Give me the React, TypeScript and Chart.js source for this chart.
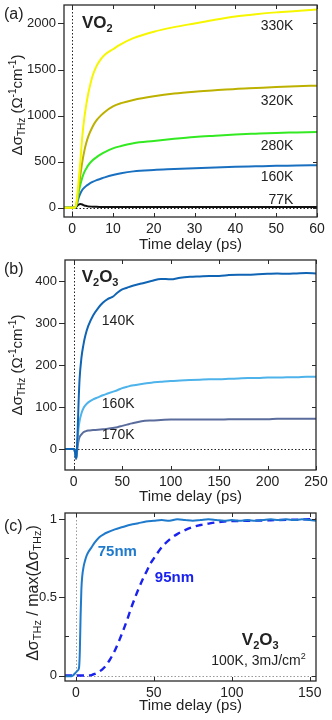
import React, { useEffect, useRef } from "react";
import { Chart, registerables } from "chart.js";
Chart.register(...registerables);

const FONT = '"Liberation Sans", Arial, Helvetica, sans-serif';
const INK = "#222";

// ---------- Panel (a): VO2 ----------
const aTime = [-2, 0, 0.7, 1, 1.3, 1.6, 2, 2.5, 3, 3.5, 4, 5, 6, 7, 8, 10, 12, 15, 20, 25, 30, 35, 40, 45, 50, 55, 60];
const a330K = [0, 0, 5, 40, 150, 300, 500, 780, 980, 1130, 1250, 1430, 1540, 1610, 1660, 1720, 1775, 1840, 1910, 1960, 2000, 2040, 2075, 2100, 2120, 2135, 2150];
const a320K = [0, 0, 3, 30, 110, 220, 350, 500, 620, 710, 780, 880, 950, 1000, 1040, 1100, 1135, 1170, 1210, 1240, 1260, 1275, 1290, 1300, 1310, 1318, 1325];
const a280K = [0, 0, 2, 25, 90, 170, 250, 330, 390, 430, 465, 515, 550, 580, 605, 645, 670, 700, 725, 748, 768, 782, 795, 804, 812, 817, 822];
const a160K = [0, 0, 0, 15, 60, 110, 155, 195, 220, 240, 255, 280, 300, 315, 330, 355, 375, 395, 410, 420, 430, 438, 445, 450, 455, 458, 462];
const a77K = [0, 0, 0, 10, 25, 35, 40, 35, 25, 20, 15, 12, 10, 9, 8, 8, 8, 8, 8, 8, 8, 8, 8, 8, 8, 8, 8];
const aXTicks = [0, 10, 20, 30, 40, 50, 60];
const aXLabels = ["0", "10", "20", "30", "40", "50", "60"];
const aYTicks = [0, 500, 1000, 1500, 2000];
const aYLabels = ["0", "500", "1000", "1500", "2000"];

// ---------- Panel (b): V2O3 ----------
const bTime = [-10, 0, 0.5, 1, 1.5, 2, 2.5, 3, 4, 5, 6, 8, 10, 12, 15, 20, 25, 30, 35, 40, 45, 50, 55, 60, 70, 80, 90, 100, 110, 120, 130, 140, 150, 160, 170, 180, 190, 200, 210, 220, 230, 240, 250];
const b140K = [0, 0, 0, -4, -10, -18, -22, -12, 40, 110, 165, 218, 248, 270, 293, 318, 335, 348, 357, 362, 372, 380, 384, 388, 394, 400, 405, 404, 408, 410, 411, 412, 412, 414, 415, 415, 416, 417, 418, 417, 418, 419, 418];
const b160K = [0, 0, 0, -4, -10, -18, -22, -14, 20, 50, 66, 85, 97, 104, 111, 118, 123, 128, 132, 136, 140, 145, 148, 151, 155, 158, 160, 162, 163, 164, 165, 166, 166, 167, 168, 169, 169, 170, 170, 171, 171, 172, 172];
const b170K = [0, 0, 0, -4, -10, -20, -24, -16, 5, 20, 28, 35, 40, 42, 44, 45, 46, 47, 48, 50, 52, 55, 58, 61, 66, 68, 69, 70, 70, 70, 70, 70, 70, 71, 71, 71, 71, 71, 72, 72, 72, 72, 72];
const bXTicks = [0, 50, 100, 150, 200, 250];
const bXLabels = ["0", "50", "100", "150", "200", "250"];
const bYTicks = [0, 100, 200, 300, 400];
const bYLabels = ["0", "100", "200", "300", "400"];

// ---------- Panel (c): normalised ----------
const c75Time = [-7, -4, -2, 0, 1, 2, 2.5, 3, 3.5, 4, 5, 6, 7, 8, 10, 12, 15, 18, 20, 25, 30, 35, 40, 45, 50, 55, 60, 65, 70, 75, 80, 85, 90, 95, 100, 105, 110, 115, 120, 125, 130, 135, 140, 145, 150, 155];
const c75nm = [-0.005, -0.005, 0.0, 0.02, 0.03, 0.05, 0.15, 0.38, 0.55, 0.63, 0.7, 0.74, 0.77, 0.79, 0.82, 0.85, 0.885, 0.905, 0.915, 0.935, 0.95, 0.965, 0.975, 0.985, 0.99, 0.995, 0.99, 1.0, 0.995, 0.99, 0.995, 1.0, 0.995, 0.99, 0.995, 0.99, 0.995, 0.99, 0.995, 1.0, 0.995, 1.0, 0.995, 1.0, 0.995, 0.99];
const c95Time = [-7, 0, 5, 8, 10, 12, 15, 18, 20, 22, 25, 28, 30, 33, 35, 38, 40, 43, 45, 48, 50, 55, 60, 65, 70, 75, 80, 85, 90, 95, 100, 110, 120, 130, 140, 150, 155];
const c95nm = [0, 0, 0, 0, 0.003, 0.01, 0.025, 0.05, 0.075, 0.105, 0.16, 0.23, 0.28, 0.36, 0.42, 0.5, 0.55, 0.62, 0.66, 0.72, 0.75, 0.82, 0.87, 0.905, 0.93, 0.95, 0.963, 0.972, 0.98, 0.985, 0.988, 0.99, 0.992, 0.995, 0.997, 1.0, 1.0];
const cXTicks = [0, 50, 100, 150];
const cXLabels = ["0", "50", "100", "150"];
const cYTicks = [0, 0.25, 0.5, 0.75, 1];
const cYLabels = ["0", "", "0.5", "", "1"];

type Seg = { t: string; size: number; bold?: boolean; dy?: number };
type Note = { x: number; y: number; segs: Seg[]; align: "left" | "right" | "center"; color?: string };

function fontOf(s: Seg) {
  return `${s.bold ? "bold " : ""}${s.size}px ${FONT}`;
}

function drawRich(ctx: CanvasRenderingContext2D, segs: Seg[], x: number, y: number, align: string, color: string) {
  let total = 0;
  const widths = segs.map((s) => {
    ctx.font = fontOf(s);
    const w = ctx.measureText(s.t).width;
    total += w;
    return w;
  });
  let cx = align === "left" ? x : align === "right" ? x - total : x - total / 2;
  ctx.fillStyle = color;
  ctx.textAlign = "left";
  ctx.textBaseline = "alphabetic";
  segs.forEach((s, i) => {
    ctx.font = fontOf(s);
    ctx.fillText(s.t, cx, y + (s.dy || 0));
    cx += widths[i];
  });
}

function pts(xs: number[], ys: number[]) {
  return xs.map((x, i) => ({ x, y: ys[i] }));
}

function line(label: string, xs: number[], ys: number[], color: string, dash?: number[]) {
  return {
    label,
    data: pts(xs, ys),
    borderColor: color,
    borderWidth: dash ? 2.4 : 2,
    borderDash: dash || [],
    pointRadius: 0,
    fill: false,
    cubicInterpolationMode: "monotone" as const,
  };
}

interface PanelOpts {
  height: number;
  datasets: any[];
  xMin: number; xMax: number; yMin: number; yMax: number;
  xTicks: number[]; xLabels: string[];
  yTicks: number[]; yLabels: string[];
  pad: { left: number; right: number; top: number; bottom: number };
  yWidth: number; xHeight: number;
  yTitle: Seg[]; yTitleX: number; yTitleDy: number;
  letter: string; letterY: number;
  notes: Note[];
  zeroColor: string;
}

function makeDecor(o: PanelOpts) {
  return {
    id: "decor",
    beforeDatasetsDraw(chart: any) {
      const { ctx, chartArea: ca, scales } = chart;
      const x = scales.x, y = scales.y;
      ctx.save();
      ctx.beginPath();
      ctx.rect(ca.left, ca.top, ca.right - ca.left, ca.bottom - ca.top);
      ctx.clip();
      ctx.strokeStyle = o.zeroColor;
      ctx.lineWidth = 1;
      ctx.setLineDash([1.5, 2]);
      const px = Math.round(x.getPixelForValue(0)) + 0.5;
      ctx.beginPath();
      ctx.moveTo(px, ca.top);
      ctx.lineTo(px, ca.bottom);
      ctx.stroke();
      const py = Math.round(y.getPixelForValue(0)) + 0.5;
      ctx.beginPath();
      ctx.moveTo(px, py);
      ctx.lineTo(ca.right, py);
      ctx.stroke();
      ctx.restore();
    },
    afterDatasetsDraw(chart: any) {
      const { ctx, chartArea: ca, scales } = chart;
      const x = scales.x, y = scales.y;
      ctx.save();
      ctx.strokeStyle = "#2a2a2a";
      ctx.lineWidth = 1.3;
      ctx.strokeRect(ca.left, ca.top, ca.right - ca.left, ca.bottom - ca.top);
      ctx.lineWidth = 1;
      ctx.beginPath();
      o.xTicks.forEach((v) => {
        const p = Math.round(x.getPixelForValue(v)) + 0.5;
        ctx.moveTo(p, ca.bottom);
        ctx.lineTo(p, ca.bottom - 4);
        ctx.moveTo(p, ca.top);
        ctx.lineTo(p, ca.top + 4);
      });
      o.yTicks.forEach((v, i) => {
        const p = Math.round(y.getPixelForValue(v)) + 0.5;
        ctx.moveTo(ca.right, p);
        ctx.lineTo(ca.right - 4, p);
        if (o.yLabels[i]) {
          ctx.moveTo(ca.left, p);
          ctx.lineTo(ca.left - 6, p);
        } else {
          ctx.moveTo(ca.left, p);
          ctx.lineTo(ca.left + 4, p);
        }
      });
      ctx.stroke();
      ctx.restore();
    },
    afterDraw(chart: any) {
      const { ctx, chartArea: ca, scales } = chart;
      const x = scales.x, y = scales.y;
      ctx.save();
      o.notes.forEach((n) => {
        drawRich(ctx, n.segs, x.getPixelForValue(n.x), y.getPixelForValue(n.y), n.align, n.color || INK);
      });
      // y-axis title, rotated
      ctx.save();
      ctx.translate(o.yTitleX, (ca.top + ca.bottom) / 2 + o.yTitleDy);
      ctx.rotate(-Math.PI / 2);
      drawRich(ctx, o.yTitle, 0, o.yTitle[0].size * 0.35, "center", INK);
      ctx.restore();
      // panel letter
      ctx.font = `16px ${FONT}`;
      ctx.fillStyle = INK;
      ctx.textAlign = "left";
      ctx.textBaseline = "middle";
      ctx.fillText(o.letter, 4, o.letterY);
      ctx.restore();
    },
  };
}

function makeConfig(o: PanelOpts): any {
  return {
    type: "line",
    data: { datasets: o.datasets },
    plugins: [makeDecor(o)],
    options: {
      responsive: false,
      animation: false,
      devicePixelRatio: 1,
      layout: { padding: o.pad },
      plugins: { legend: { display: false }, tooltip: { enabled: false } },
      scales: {
        x: {
          type: "linear",
          min: o.xMin,
          max: o.xMax,
          afterBuildTicks: (s: any) => {
            s.ticks = o.xTicks.map((v) => ({ value: v }));
          },
          afterFit: (s: any) => {
            s.height = o.xHeight;
            s.paddingLeft = 0;
            s.paddingRight = 0;
          },
          grid: { display: false, drawTicks: false },
          border: { display: false },
          ticks: {
            autoSkip: false,
            maxRotation: 0,
            padding: 4,
            color: INK,
            font: { family: FONT, size: 14 },
            callback: (_v: any, i: number) => o.xLabels[i],
          },
          title: {
            display: true,
            text: "Time delay (ps)",
            color: INK,
            padding: 0,
            font: { family: FONT, size: 15 },
          },
        },
        y: {
          type: "linear",
          min: o.yMin,
          max: o.yMax,
          afterBuildTicks: (s: any) => {
            s.ticks = o.yTicks.map((v) => ({ value: v }));
          },
          afterFit: (s: any) => {
            s.width = o.yWidth;
            s.paddingTop = 0;
            s.paddingBottom = 0;
          },
          grid: { display: false, drawTicks: false },
          border: { display: false },
          ticks: {
            autoSkip: false,
            padding: 8,
            color: INK,
            font: { family: FONT, size: 13 },
            callback: (_v: any, i: number) => o.yLabels[i],
          },
        },
      },
    },
  };
}

const sigmaTitle: Seg[] = [
  { t: "Δσ", size: 15 },
  { t: "THz", size: 10, dy: 3 },
  { t: " (Ω", size: 15 },
  { t: "-1", size: 10, dy: -6 },
  { t: "cm", size: 15 },
  { t: "-1", size: 10, dy: -6 },
  { t: ")", size: 15 },
];

const normTitle: Seg[] = [
  { t: "Δσ", size: 16 },
  { t: "THz", size: 11, dy: 3 },
  { t: " / max(Δσ", size: 16 },
  { t: "THz", size: 11, dy: 3 },
  { t: ")", size: 16 },
];

const tl = (t: string, x: number, y: number, align: "left" | "right"): Note => ({ x, y, align, segs: [{ t, size: 14 }] });

const panelA: PanelOpts = {
  height: 254,
  datasets: [
    line("330K", aTime, a330K, "#f6f600"),
    line("320K", aTime, a320K, "#bdb100"),
    line("280K", aTime, a280K, "#33ea22"),
    line("160K", aTime, a160K, "#1a70c0"),
    line("77K", aTime, a77K, "#111111"),
  ],
  xMin: -2, xMax: 60, yMin: -100, yMax: 2200,
  xTicks: aXTicks, xLabels: aXLabels, yTicks: aYTicks, yLabels: aYLabels,
  pad: { left: 0, right: 15, top: 5, bottom: 0 },
  yWidth: 64, xHeight: 37,
  yTitle: sigmaTitle, yTitleX: 17, yTitleDy: -6,
  letter: "(a)", letterY: 15,
  zeroColor: "#222",
  notes: [
    { x: 2.4, y: 1953, align: "left", segs: [{ t: "VO", size: 17, bold: true }, { t: "2", size: 11, bold: true, dy: 4 }] },
    tl("330K", 54.2, 1932, "right"),
    tl("320K", 54.2, 1119, "right"),
    tl("280K", 54.2, 632, "right"),
    tl("160K", 54.2, 286, "right"),
    tl("77K", 54.2, 36, "right"),
  ],
};

const panelB: PanelOpts = {
  height: 252,
  datasets: [
    line("140K", bTime, b140K, "#1064b4"),
    line("160K", bTime, b160K, "#4db3ea"),
    line("170K", bTime, b170K, "#5a6c9c"),
  ],
  xMin: -9, xMax: 250, yMin: -50, yMax: 450,
  xTicks: bXTicks, xLabels: bXLabels, yTicks: bYTicks, yLabels: bYLabels,
  pad: { left: 0, right: 16, top: 6, bottom: 0 },
  yWidth: 65, xHeight: 36,
  yTitle: sigmaTitle, yTitleX: 17, yTitleDy: 0,
  letter: "(b)", letterY: 16,
  zeroColor: "#222",
  notes: [
    { x: 8.2, y: 397, align: "left", segs: [{ t: "V", size: 17, bold: true }, { t: "2", size: 11, bold: true, dy: 4 }, { t: "O", size: 17, bold: true }, { t: "3", size: 11, bold: true, dy: 4 }] },
    tl("140K", 29, 296, "left"),
    tl("160K", 29, 97, "left"),
    tl("170K", 29, 25, "left"),
  ],
};

const panelC: PanelOpts = {
  height: 209,
  datasets: [
    line("75nm", c75Time, c75nm, "#1f7acc"),
    line("95nm", c95Time, c95nm, "#1a22ee", [7, 5]),
  ],
  xMin: -7, xMax: 154, yMin: -0.035, yMax: 1.04,
  xTicks: cXTicks, xLabels: cXLabels, yTicks: cYTicks, yLabels: cYLabels,
  pad: { left: 0, right: 16, top: 7, bottom: 0 },
  yWidth: 65, xHeight: 34,
  yTitle: normTitle, yTitleX: 32, yTitleDy: -4,
  letter: "(c)", letterY: 21,
  zeroColor: "#999",
  notes: [
    { x: 14, y: 0.764, align: "left", color: "#1f7acc", segs: [{ t: "75nm", size: 15, bold: true }] },
    { x: 50.6, y: 0.598, align: "left", color: "#1a22ee", segs: [{ t: "95nm", size: 15, bold: true }] },
    { x: 130, y: 0.196, align: "right", segs: [{ t: "V", size: 17, bold: true }, { t: "2", size: 11, bold: true, dy: 4 }, { t: "O", size: 17, bold: true }, { t: "3", size: 11, bold: true, dy: 4 }] },
    { x: 147.4, y: 0.068, align: "right", segs: [{ t: "100K, 3mJ/cm", size: 14 }, { t: "2", size: 9, dy: -6 }] },
  ],
};

function Panel({ top, opts }: { top: number; opts: PanelOpts }) {
  const ref = useRef<HTMLCanvasElement>(null);
  useEffect(() => {
    const chart = new Chart(ref.current as HTMLCanvasElement, makeConfig(opts));
    return () => chart.destroy();
  }, []);
  return (
    <canvas
      ref={ref}
      width={332}
      height={opts.height}
      style={{ position: "absolute", left: 0, top, width: 332, height: opts.height }}
    />
  );
}

export default function App() {
  return (
    <div style={{ position: "absolute", left: 0, top: 0, width: 332, height: 720, background: "#fff" }}>
      <Panel top={0} opts={panelA} />
      <Panel top={254} opts={panelB} />
      <Panel top={506} opts={panelC} />
    </div>
  );
}
